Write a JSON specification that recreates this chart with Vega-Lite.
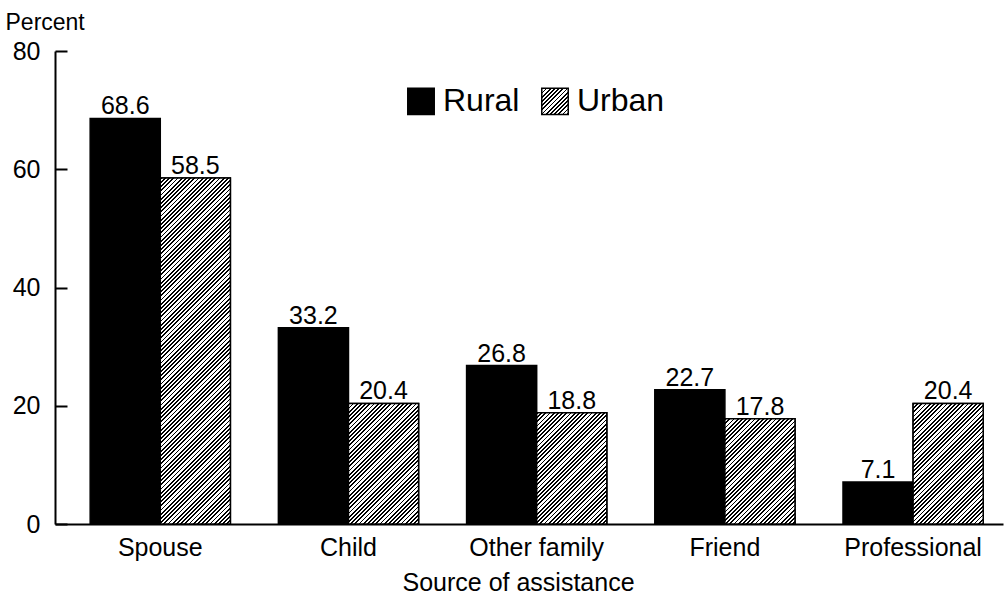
{
  "$schema": "https://vega.github.io/schema/vega-lite/v6.json",
  "width": 948,
  "height": 473,
  "autosize": "none",
  "padding": {"left": 55, "top": 51, "right": 2, "bottom": 73},
  "background": "white",
  "config": {
    "view": {"stroke": null},
    "font": "Liberation Sans",
    "axis": {"labelFont": "Liberation Sans", "titleFont": "Liberation Sans", "labelColor": "black", "titleColor": "black", "domainColor": "black", "tickColor": "black", "grid": false}
  },
  "params": [
    {"name": "hatch", "value": [
{"offset":0,"color":"#000"},{"offset":0.0042,"color":"#000"},{"offset":0.0042,"color":"#fff"},{"offset":0.01,"color":"#fff"},
{"offset":0.01,"color":"#000"},{"offset":0.0142,"color":"#000"},{"offset":0.0142,"color":"#fff"},{"offset":0.02,"color":"#fff"},
{"offset":0.02,"color":"#000"},{"offset":0.0242,"color":"#000"},{"offset":0.0242,"color":"#fff"},{"offset":0.03,"color":"#fff"},
{"offset":0.03,"color":"#000"},{"offset":0.0342,"color":"#000"},{"offset":0.0342,"color":"#fff"},{"offset":0.04,"color":"#fff"},
{"offset":0.04,"color":"#000"},{"offset":0.0442,"color":"#000"},{"offset":0.0442,"color":"#fff"},{"offset":0.05,"color":"#fff"},
{"offset":0.05,"color":"#000"},{"offset":0.0542,"color":"#000"},{"offset":0.0542,"color":"#fff"},{"offset":0.06,"color":"#fff"},
{"offset":0.06,"color":"#000"},{"offset":0.0642,"color":"#000"},{"offset":0.0642,"color":"#fff"},{"offset":0.07,"color":"#fff"},
{"offset":0.07,"color":"#000"},{"offset":0.0742,"color":"#000"},{"offset":0.0742,"color":"#fff"},{"offset":0.08,"color":"#fff"},
{"offset":0.08,"color":"#000"},{"offset":0.0842,"color":"#000"},{"offset":0.0842,"color":"#fff"},{"offset":0.09,"color":"#fff"},
{"offset":0.09,"color":"#000"},{"offset":0.0942,"color":"#000"},{"offset":0.0942,"color":"#fff"},{"offset":0.1,"color":"#fff"},
{"offset":0.1,"color":"#000"},{"offset":0.1042,"color":"#000"},{"offset":0.1042,"color":"#fff"},{"offset":0.11,"color":"#fff"},
{"offset":0.11,"color":"#000"},{"offset":0.1142,"color":"#000"},{"offset":0.1142,"color":"#fff"},{"offset":0.12,"color":"#fff"},
{"offset":0.12,"color":"#000"},{"offset":0.1242,"color":"#000"},{"offset":0.1242,"color":"#fff"},{"offset":0.13,"color":"#fff"},
{"offset":0.13,"color":"#000"},{"offset":0.1342,"color":"#000"},{"offset":0.1342,"color":"#fff"},{"offset":0.14,"color":"#fff"},
{"offset":0.14,"color":"#000"},{"offset":0.1442,"color":"#000"},{"offset":0.1442,"color":"#fff"},{"offset":0.15,"color":"#fff"},
{"offset":0.15,"color":"#000"},{"offset":0.1542,"color":"#000"},{"offset":0.1542,"color":"#fff"},{"offset":0.16,"color":"#fff"},
{"offset":0.16,"color":"#000"},{"offset":0.1642,"color":"#000"},{"offset":0.1642,"color":"#fff"},{"offset":0.17,"color":"#fff"},
{"offset":0.17,"color":"#000"},{"offset":0.1742,"color":"#000"},{"offset":0.1742,"color":"#fff"},{"offset":0.18,"color":"#fff"},
{"offset":0.18,"color":"#000"},{"offset":0.1842,"color":"#000"},{"offset":0.1842,"color":"#fff"},{"offset":0.19,"color":"#fff"},
{"offset":0.19,"color":"#000"},{"offset":0.1942,"color":"#000"},{"offset":0.1942,"color":"#fff"},{"offset":0.2,"color":"#fff"},
{"offset":0.2,"color":"#000"},{"offset":0.2042,"color":"#000"},{"offset":0.2042,"color":"#fff"},{"offset":0.21,"color":"#fff"},
{"offset":0.21,"color":"#000"},{"offset":0.2142,"color":"#000"},{"offset":0.2142,"color":"#fff"},{"offset":0.22,"color":"#fff"},
{"offset":0.22,"color":"#000"},{"offset":0.2242,"color":"#000"},{"offset":0.2242,"color":"#fff"},{"offset":0.23,"color":"#fff"},
{"offset":0.23,"color":"#000"},{"offset":0.2342,"color":"#000"},{"offset":0.2342,"color":"#fff"},{"offset":0.24,"color":"#fff"},
{"offset":0.24,"color":"#000"},{"offset":0.2442,"color":"#000"},{"offset":0.2442,"color":"#fff"},{"offset":0.25,"color":"#fff"},
{"offset":0.25,"color":"#000"},{"offset":0.2542,"color":"#000"},{"offset":0.2542,"color":"#fff"},{"offset":0.26,"color":"#fff"},
{"offset":0.26,"color":"#000"},{"offset":0.2642,"color":"#000"},{"offset":0.2642,"color":"#fff"},{"offset":0.27,"color":"#fff"},
{"offset":0.27,"color":"#000"},{"offset":0.2742,"color":"#000"},{"offset":0.2742,"color":"#fff"},{"offset":0.28,"color":"#fff"},
{"offset":0.28,"color":"#000"},{"offset":0.2842,"color":"#000"},{"offset":0.2842,"color":"#fff"},{"offset":0.29,"color":"#fff"},
{"offset":0.29,"color":"#000"},{"offset":0.2942,"color":"#000"},{"offset":0.2942,"color":"#fff"},{"offset":0.3,"color":"#fff"},
{"offset":0.3,"color":"#000"},{"offset":0.3042,"color":"#000"},{"offset":0.3042,"color":"#fff"},{"offset":0.31,"color":"#fff"},
{"offset":0.31,"color":"#000"},{"offset":0.3142,"color":"#000"},{"offset":0.3142,"color":"#fff"},{"offset":0.32,"color":"#fff"},
{"offset":0.32,"color":"#000"},{"offset":0.3242,"color":"#000"},{"offset":0.3242,"color":"#fff"},{"offset":0.33,"color":"#fff"},
{"offset":0.33,"color":"#000"},{"offset":0.3342,"color":"#000"},{"offset":0.3342,"color":"#fff"},{"offset":0.34,"color":"#fff"},
{"offset":0.34,"color":"#000"},{"offset":0.3442,"color":"#000"},{"offset":0.3442,"color":"#fff"},{"offset":0.35,"color":"#fff"},
{"offset":0.35,"color":"#000"},{"offset":0.3542,"color":"#000"},{"offset":0.3542,"color":"#fff"},{"offset":0.36,"color":"#fff"},
{"offset":0.36,"color":"#000"},{"offset":0.3642,"color":"#000"},{"offset":0.3642,"color":"#fff"},{"offset":0.37,"color":"#fff"},
{"offset":0.37,"color":"#000"},{"offset":0.3742,"color":"#000"},{"offset":0.3742,"color":"#fff"},{"offset":0.38,"color":"#fff"},
{"offset":0.38,"color":"#000"},{"offset":0.3842,"color":"#000"},{"offset":0.3842,"color":"#fff"},{"offset":0.39,"color":"#fff"},
{"offset":0.39,"color":"#000"},{"offset":0.3942,"color":"#000"},{"offset":0.3942,"color":"#fff"},{"offset":0.4,"color":"#fff"},
{"offset":0.4,"color":"#000"},{"offset":0.4042,"color":"#000"},{"offset":0.4042,"color":"#fff"},{"offset":0.41,"color":"#fff"},
{"offset":0.41,"color":"#000"},{"offset":0.4142,"color":"#000"},{"offset":0.4142,"color":"#fff"},{"offset":0.42,"color":"#fff"},
{"offset":0.42,"color":"#000"},{"offset":0.4242,"color":"#000"},{"offset":0.4242,"color":"#fff"},{"offset":0.43,"color":"#fff"},
{"offset":0.43,"color":"#000"},{"offset":0.4342,"color":"#000"},{"offset":0.4342,"color":"#fff"},{"offset":0.44,"color":"#fff"},
{"offset":0.44,"color":"#000"},{"offset":0.4442,"color":"#000"},{"offset":0.4442,"color":"#fff"},{"offset":0.45,"color":"#fff"},
{"offset":0.45,"color":"#000"},{"offset":0.4542,"color":"#000"},{"offset":0.4542,"color":"#fff"},{"offset":0.46,"color":"#fff"},
{"offset":0.46,"color":"#000"},{"offset":0.4642,"color":"#000"},{"offset":0.4642,"color":"#fff"},{"offset":0.47,"color":"#fff"},
{"offset":0.47,"color":"#000"},{"offset":0.4742,"color":"#000"},{"offset":0.4742,"color":"#fff"},{"offset":0.48,"color":"#fff"},
{"offset":0.48,"color":"#000"},{"offset":0.4842,"color":"#000"},{"offset":0.4842,"color":"#fff"},{"offset":0.49,"color":"#fff"},
{"offset":0.49,"color":"#000"},{"offset":0.4942,"color":"#000"},{"offset":0.4942,"color":"#fff"},{"offset":0.5,"color":"#fff"},
{"offset":0.5,"color":"#000"},{"offset":0.5042,"color":"#000"},{"offset":0.5042,"color":"#fff"},{"offset":0.51,"color":"#fff"},
{"offset":0.51,"color":"#000"},{"offset":0.5142,"color":"#000"},{"offset":0.5142,"color":"#fff"},{"offset":0.52,"color":"#fff"},
{"offset":0.52,"color":"#000"},{"offset":0.5242,"color":"#000"},{"offset":0.5242,"color":"#fff"},{"offset":0.53,"color":"#fff"},
{"offset":0.53,"color":"#000"},{"offset":0.5342,"color":"#000"},{"offset":0.5342,"color":"#fff"},{"offset":0.54,"color":"#fff"},
{"offset":0.54,"color":"#000"},{"offset":0.5442,"color":"#000"},{"offset":0.5442,"color":"#fff"},{"offset":0.55,"color":"#fff"},
{"offset":0.55,"color":"#000"},{"offset":0.5542,"color":"#000"},{"offset":0.5542,"color":"#fff"},{"offset":0.56,"color":"#fff"},
{"offset":0.56,"color":"#000"},{"offset":0.5642,"color":"#000"},{"offset":0.5642,"color":"#fff"},{"offset":0.57,"color":"#fff"},
{"offset":0.57,"color":"#000"},{"offset":0.5742,"color":"#000"},{"offset":0.5742,"color":"#fff"},{"offset":0.58,"color":"#fff"},
{"offset":0.58,"color":"#000"},{"offset":0.5842,"color":"#000"},{"offset":0.5842,"color":"#fff"},{"offset":0.59,"color":"#fff"},
{"offset":0.59,"color":"#000"},{"offset":0.5942,"color":"#000"},{"offset":0.5942,"color":"#fff"},{"offset":0.6,"color":"#fff"},
{"offset":0.6,"color":"#000"},{"offset":0.6042,"color":"#000"},{"offset":0.6042,"color":"#fff"},{"offset":0.61,"color":"#fff"},
{"offset":0.61,"color":"#000"},{"offset":0.6142,"color":"#000"},{"offset":0.6142,"color":"#fff"},{"offset":0.62,"color":"#fff"},
{"offset":0.62,"color":"#000"},{"offset":0.6242,"color":"#000"},{"offset":0.6242,"color":"#fff"},{"offset":0.63,"color":"#fff"},
{"offset":0.63,"color":"#000"},{"offset":0.6342,"color":"#000"},{"offset":0.6342,"color":"#fff"},{"offset":0.64,"color":"#fff"},
{"offset":0.64,"color":"#000"},{"offset":0.6442,"color":"#000"},{"offset":0.6442,"color":"#fff"},{"offset":0.65,"color":"#fff"},
{"offset":0.65,"color":"#000"},{"offset":0.6542,"color":"#000"},{"offset":0.6542,"color":"#fff"},{"offset":0.66,"color":"#fff"},
{"offset":0.66,"color":"#000"},{"offset":0.6642,"color":"#000"},{"offset":0.6642,"color":"#fff"},{"offset":0.67,"color":"#fff"},
{"offset":0.67,"color":"#000"},{"offset":0.6742,"color":"#000"},{"offset":0.6742,"color":"#fff"},{"offset":0.68,"color":"#fff"},
{"offset":0.68,"color":"#000"},{"offset":0.6842,"color":"#000"},{"offset":0.6842,"color":"#fff"},{"offset":0.69,"color":"#fff"},
{"offset":0.69,"color":"#000"},{"offset":0.6942,"color":"#000"},{"offset":0.6942,"color":"#fff"},{"offset":0.7,"color":"#fff"},
{"offset":0.7,"color":"#000"},{"offset":0.7042,"color":"#000"},{"offset":0.7042,"color":"#fff"},{"offset":0.71,"color":"#fff"},
{"offset":0.71,"color":"#000"},{"offset":0.7142,"color":"#000"},{"offset":0.7142,"color":"#fff"},{"offset":0.72,"color":"#fff"},
{"offset":0.72,"color":"#000"},{"offset":0.7242,"color":"#000"},{"offset":0.7242,"color":"#fff"},{"offset":0.73,"color":"#fff"},
{"offset":0.73,"color":"#000"},{"offset":0.7342,"color":"#000"},{"offset":0.7342,"color":"#fff"},{"offset":0.74,"color":"#fff"},
{"offset":0.74,"color":"#000"},{"offset":0.7442,"color":"#000"},{"offset":0.7442,"color":"#fff"},{"offset":0.75,"color":"#fff"},
{"offset":0.75,"color":"#000"},{"offset":0.7542,"color":"#000"},{"offset":0.7542,"color":"#fff"},{"offset":0.76,"color":"#fff"},
{"offset":0.76,"color":"#000"},{"offset":0.7642,"color":"#000"},{"offset":0.7642,"color":"#fff"},{"offset":0.77,"color":"#fff"},
{"offset":0.77,"color":"#000"},{"offset":0.7742,"color":"#000"},{"offset":0.7742,"color":"#fff"},{"offset":0.78,"color":"#fff"},
{"offset":0.78,"color":"#000"},{"offset":0.7842,"color":"#000"},{"offset":0.7842,"color":"#fff"},{"offset":0.79,"color":"#fff"},
{"offset":0.79,"color":"#000"},{"offset":0.7942,"color":"#000"},{"offset":0.7942,"color":"#fff"},{"offset":0.8,"color":"#fff"},
{"offset":0.8,"color":"#000"},{"offset":0.8042,"color":"#000"},{"offset":0.8042,"color":"#fff"},{"offset":0.81,"color":"#fff"},
{"offset":0.81,"color":"#000"},{"offset":0.8142,"color":"#000"},{"offset":0.8142,"color":"#fff"},{"offset":0.82,"color":"#fff"},
{"offset":0.82,"color":"#000"},{"offset":0.8242,"color":"#000"},{"offset":0.8242,"color":"#fff"},{"offset":0.83,"color":"#fff"},
{"offset":0.83,"color":"#000"},{"offset":0.8342,"color":"#000"},{"offset":0.8342,"color":"#fff"},{"offset":0.84,"color":"#fff"},
{"offset":0.84,"color":"#000"},{"offset":0.8442,"color":"#000"},{"offset":0.8442,"color":"#fff"},{"offset":0.85,"color":"#fff"},
{"offset":0.85,"color":"#000"},{"offset":0.8542,"color":"#000"},{"offset":0.8542,"color":"#fff"},{"offset":0.86,"color":"#fff"},
{"offset":0.86,"color":"#000"},{"offset":0.8642,"color":"#000"},{"offset":0.8642,"color":"#fff"},{"offset":0.87,"color":"#fff"},
{"offset":0.87,"color":"#000"},{"offset":0.8742,"color":"#000"},{"offset":0.8742,"color":"#fff"},{"offset":0.88,"color":"#fff"},
{"offset":0.88,"color":"#000"},{"offset":0.8842,"color":"#000"},{"offset":0.8842,"color":"#fff"},{"offset":0.89,"color":"#fff"},
{"offset":0.89,"color":"#000"},{"offset":0.8942,"color":"#000"},{"offset":0.8942,"color":"#fff"},{"offset":0.9,"color":"#fff"},
{"offset":0.9,"color":"#000"},{"offset":0.9042,"color":"#000"},{"offset":0.9042,"color":"#fff"},{"offset":0.91,"color":"#fff"},
{"offset":0.91,"color":"#000"},{"offset":0.9142,"color":"#000"},{"offset":0.9142,"color":"#fff"},{"offset":0.92,"color":"#fff"},
{"offset":0.92,"color":"#000"},{"offset":0.9242,"color":"#000"},{"offset":0.9242,"color":"#fff"},{"offset":0.93,"color":"#fff"},
{"offset":0.93,"color":"#000"},{"offset":0.9342,"color":"#000"},{"offset":0.9342,"color":"#fff"},{"offset":0.94,"color":"#fff"},
{"offset":0.94,"color":"#000"},{"offset":0.9442,"color":"#000"},{"offset":0.9442,"color":"#fff"},{"offset":0.95,"color":"#fff"},
{"offset":0.95,"color":"#000"},{"offset":0.9542,"color":"#000"},{"offset":0.9542,"color":"#fff"},{"offset":0.96,"color":"#fff"},
{"offset":0.96,"color":"#000"},{"offset":0.9642,"color":"#000"},{"offset":0.9642,"color":"#fff"},{"offset":0.97,"color":"#fff"},
{"offset":0.97,"color":"#000"},{"offset":0.9742,"color":"#000"},{"offset":0.9742,"color":"#fff"},{"offset":0.98,"color":"#fff"},
{"offset":0.98,"color":"#000"},{"offset":0.9842,"color":"#000"},{"offset":0.9842,"color":"#fff"},{"offset":0.99,"color":"#fff"},
{"offset":0.99,"color":"#000"},{"offset":0.9942,"color":"#000"},{"offset":0.9942,"color":"#fff"},{"offset":1,"color":"#fff"}
    ]}
  ],
  "data": {
    "values": [
      {"Source": "Spouse", "Group": "Rural", "Percent": 68.6},
      {"Source": "Spouse", "Group": "Urban", "Percent": 58.5},
      {"Source": "Child", "Group": "Rural", "Percent": 33.2},
      {"Source": "Child", "Group": "Urban", "Percent": 20.4},
      {"Source": "Other family", "Group": "Rural", "Percent": 26.8},
      {"Source": "Other family", "Group": "Urban", "Percent": 18.8},
      {"Source": "Friend", "Group": "Rural", "Percent": 22.7},
      {"Source": "Friend", "Group": "Urban", "Percent": 17.8},
      {"Source": "Professional", "Group": "Rural", "Percent": 7.1},
      {"Source": "Professional", "Group": "Urban", "Percent": 20.4}
    ]
  },
  "encoding": {
    "x": {
      "field": "Source", "type": "nominal",
      "sort": ["Spouse", "Child", "Other family", "Friend", "Professional"],
      "scale": {"paddingInner": 0.255, "paddingOuter": 0.146, "align": 0.64},
      "axis": {
        "title": "Source of assistance", "titleFontSize": 25, "titleFontWeight": "normal",
        "titleX": 463, "titleY": 66, "titleBaseline": "alphabetic", "titleAlign": "center",
        "labelAngle": 0, "labelFontSize": 25, "labelPadding": 11,
        "ticks": false, "domainWidth": 2
      }
    },
    "xOffset": {"field": "Group", "type": "nominal", "sort": ["Rural", "Urban"], "scale": {"paddingInner": 0, "paddingOuter": 0}},
    "y": {
      "field": "Percent", "type": "quantitative",
      "scale": {"domain": [0, 80], "nice": false},
      "axis": {
        "title": "Percent", "titleAngle": 0, "titleFontSize": 23, "titleFontWeight": "normal",
        "titleX": -50, "titleY": -22, "titleAlign": "left", "titleBaseline": "alphabetic",
        "values": [0, 20, 40, 60, 80], "labelFontSize": 25, "tickSize": -12, "tickWidth": 2,
        "labelPadding": 27, "domainWidth": 2
      }
    }
  },
  "layer": [
    {
      "mark": {"type": "bar", "stroke": "black", "strokeWidth": 1.5},
      "encoding": {
        "fill": {
          "field": "Group", "type": "nominal",
          "scale": {"domain": ["Rural", "Urban"], "range": ["black", {"expr": "{gradient: 'linear', x1: 0, y1: 0, x2: 7.92, y2: 7.92, stops: hatch}"}]},
          "legend": {
            "title": null, "orient": "none", "legendX": 350, "legendY": 34,
            "direction": "horizontal", "symbolType": "square", "symbolSize": 700,
            "symbolStrokeColor": "black", "symbolStrokeWidth": 1.5, "symbolOpacity": 1,
            "labelFontSize": 32, "labelFont": "Liberation Sans", "labelColor": "black",
            "labelOffset": 6, "columnPadding": 18, "padding": 0
          }
        }
      }
    },
    {
      "transform": [{"filter": "datum.Group === 'Urban'"}],
      "mark": {
        "type": "bar", "stroke": "black", "strokeWidth": 1.5,
        "fill": {"expr": "{gradient: 'linear', x1: 0, y1: 0, x2: bandwidth('xOffset') * 420 / (pow(bandwidth('xOffset'), 2) + pow(scale('y', 0) - scale('y', datum.Percent), 2)), y2: (scale('y', 0) - scale('y', datum.Percent)) * 420 / (pow(bandwidth('xOffset'), 2) + pow(scale('y', 0) - scale('y', datum.Percent), 2)), stops: hatch}"}
      }
    },
    {
      "mark": {"type": "text", "baseline": "alphabetic", "dy": -4, "fontSize": 25, "font": "Liberation Sans", "color": "black"},
      "encoding": {
        "text": {"field": "Percent", "type": "quantitative", "format": ".1f"}
      }
    }
  ]
}
